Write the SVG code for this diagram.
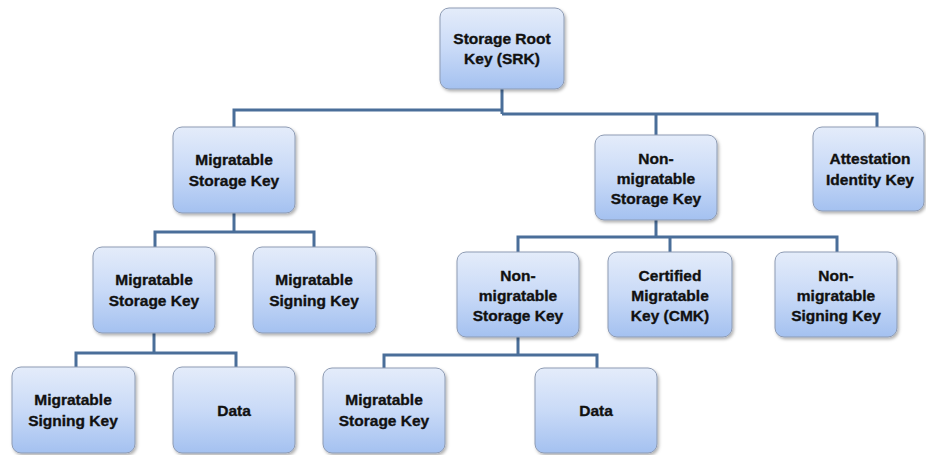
<svg xmlns="http://www.w3.org/2000/svg" width="926" height="455" viewBox="0 0 926 455">
<defs>
<linearGradient id="g" x1="0" y1="0" x2="0" y2="1">
<stop offset="0" stop-color="#e4ecfa"/>
<stop offset="0.5" stop-color="#c9daf7"/>
<stop offset="1" stop-color="#a4c1f0"/>
</linearGradient>
<filter id="sh" x="-10%" y="-10%" width="130%" height="130%">
<feDropShadow dx="1.5" dy="2" stdDeviation="1.5" flood-color="#000" flood-opacity="0.3"/>
</filter>
</defs>
<style>
.box{fill:url(#g);stroke:#8d9bb3;stroke-width:1;filter:url(#sh)}
.t{font-family:"Liberation Sans",Arial,sans-serif;font-weight:bold;font-size:15.5px;fill:#111;stroke:#111;stroke-width:0.35;text-anchor:middle}
.c{fill:none;stroke:#4a6e99;stroke-width:3}
</style>
<rect width="926" height="455" fill="#fff"/>
<g id="connectors">
<path class="c" d="M502 89V114"/>
<path class="c" d="M503 110H234V127"/>
<path class="c" d="M502 114H877V127"/>
<path class="c" d="M656 114V135"/>
<path class="c" d="M234 213V232"/>
<path class="c" d="M155 247V232H314V247"/>
<path class="c" d="M154 333V353"/>
<path class="c" d="M76 367V353H236V367"/>
<path class="c" d="M656 220V237"/>
<path class="c" d="M518 252V237H837V252"/>
<path class="c" d="M670 237V252"/>
<path class="c" d="M518 337V355"/>
<path class="c" d="M384 368V355H597V368"/>
</g>
<g id="srk">
<rect class="box" x="440" y="8" width="124" height="81" rx="9"/>
<text class="t" x="502" y="44">Storage Root</text>
<text class="t" x="502" y="64">Key (SRK)</text>
</g>
<g id="msk1">
<rect class="box" x="173" y="127" width="122" height="86" rx="9"/>
<text class="t" x="234" y="165">Migratable</text>
<text class="t" x="234" y="186">Storage Key</text>
</g>
<g id="nmsk1">
<rect class="box" x="595" y="135" width="122" height="85" rx="9"/>
<text class="t" x="656" y="164">Non-</text>
<text class="t" x="656" y="184">migratable</text>
<text class="t" x="656" y="204">Storage Key</text>
</g>
<g id="aik">
<rect class="box" x="813" y="127" width="111" height="84" rx="9"/>
<text class="t" x="870" y="164">Attestation</text>
<text class="t" x="870" y="185">Identity Key</text>
</g>
<g id="msk2">
<rect class="box" x="93" y="247" width="122" height="86" rx="9"/>
<text class="t" x="154" y="285">Migratable</text>
<text class="t" x="154" y="306">Storage Key</text>
</g>
<g id="msigk2">
<rect class="box" x="253" y="247" width="123" height="86" rx="9"/>
<text class="t" x="314" y="285">Migratable</text>
<text class="t" x="314" y="306">Signing Key</text>
</g>
<g id="nmsk2">
<rect class="box" x="457" y="252" width="122" height="85" rx="9"/>
<text class="t" x="518" y="281">Non-</text>
<text class="t" x="518" y="301">migratable</text>
<text class="t" x="518" y="321">Storage Key</text>
</g>
<g id="cmk">
<rect class="box" x="608" y="252" width="124" height="85" rx="9"/>
<text class="t" x="670" y="281">Certified</text>
<text class="t" x="670" y="301">Migratable</text>
<text class="t" x="670" y="321">Key (CMK)</text>
</g>
<g id="nmsigk">
<rect class="box" x="775" y="252" width="122" height="85" rx="9"/>
<text class="t" x="836" y="281">Non-</text>
<text class="t" x="836" y="301">migratable</text>
<text class="t" x="836" y="321">Signing Key</text>
</g>
<g id="msigk3">
<rect class="box" x="12" y="367" width="123" height="86" rx="9"/>
<text class="t" x="73" y="405">Migratable</text>
<text class="t" x="73" y="426">Signing Key</text>
</g>
<g id="data1">
<rect class="box" x="173" y="367" width="122" height="86" rx="9"/>
<text class="t" x="234" y="416">Data</text>
</g>
<g id="msk3">
<rect class="box" x="323" y="368" width="122" height="85" rx="9"/>
<text class="t" x="384" y="405">Migratable</text>
<text class="t" x="384" y="426">Storage Key</text>
</g>
<g id="data2">
<rect class="box" x="535" y="368" width="122" height="85" rx="9"/>
<text class="t" x="596" y="416">Data</text>
</g>
</svg>
